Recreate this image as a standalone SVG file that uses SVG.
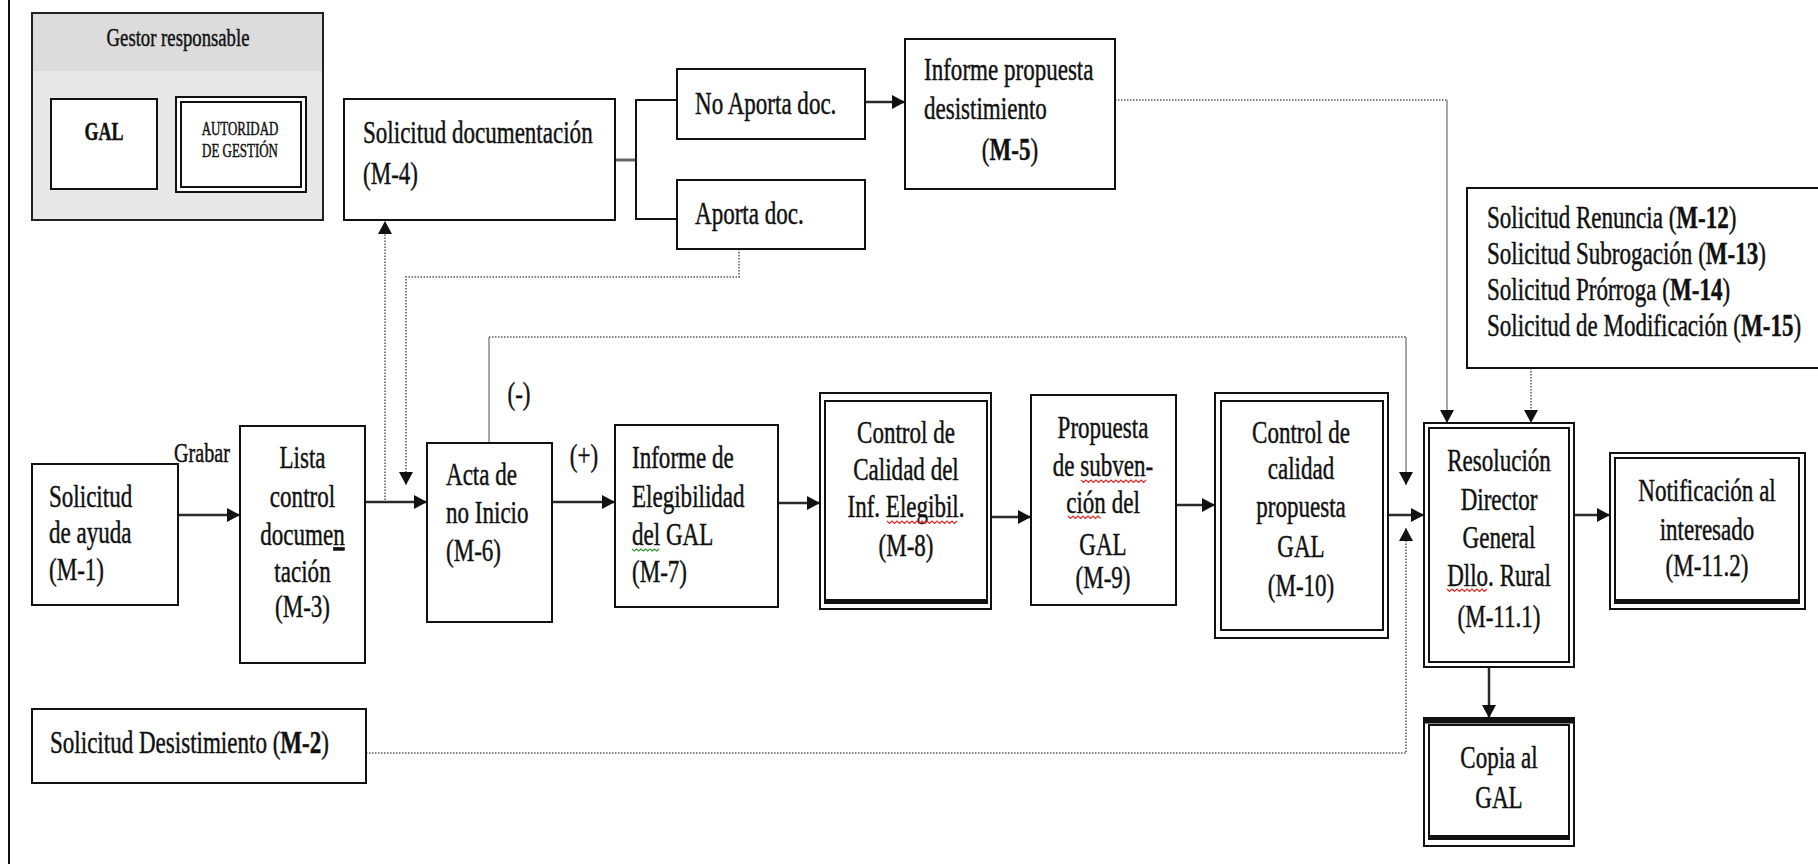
<svg xmlns="http://www.w3.org/2000/svg" width="1818" height="864" viewBox="0 0 1818 864">
<style>
.t{font-family:"Liberation Serif","Times New Roman",serif;font-size:32px;fill:#111;stroke:#111;stroke-width:0.45}
.c{text-anchor:middle}
.b{font-weight:bold}
.box{fill:#fff;stroke:#111;stroke-width:2}
.ln{fill:none;stroke:#2a2a2a;stroke-width:2.5}
.dot{fill:none;stroke:#808080;stroke-width:2;stroke-dasharray:1.5 1.5}
.thin{fill:none;stroke:#8a8a8a;stroke-width:1.5}
.sqr{fill:none;stroke:#e02828;stroke-width:1.2}
.sqg{fill:none;stroke:#2f9a2f;stroke-width:1.2}
</style>
<defs>
<marker id="ah" viewBox="0 0 13 14" refX="13" refY="7" markerWidth="13" markerHeight="14" markerUnits="userSpaceOnUse" orient="auto">
<path d="M0,0 L13,7 L0,14 z" fill="#111"/>
</marker>
</defs>
<rect width="1818" height="864" fill="#fff"/>
<line x1="9" y1="0" x2="9" y2="864" stroke="#111" stroke-width="2"/>

<g id="legend">
<rect x="32" y="13" width="291" height="207" fill="#e8e8e8" stroke="#222" stroke-width="2"/>
<rect x="33" y="14" width="289" height="57" fill="#dcdcdc"/>
<text class="t c" style="font-size:26px" transform="translate(178,46) scale(0.72,1)">Gestor responsable</text>
<rect class="box" x="51" y="99" width="106" height="90"/>
<text class="t c b" style="font-size:25px" transform="translate(104,140) scale(0.72,1)">GAL</text>
<rect class="box" x="176" y="97" width="130" height="95"/>
<rect class="box" x="181" y="102" width="120" height="85"/>
<text class="t c" style="font-size:18px" transform="translate(240,135) scale(0.72,1)">AUTORIDAD</text>
<text class="t c" style="font-size:18px" transform="translate(240,157) scale(0.72,1)">DE GESTIÓN</text>
</g>

<g id="connectors">
<line class="ln" x1="178" y1="515" x2="240" y2="515" marker-end="url(#ah)"/>
<line class="ln" x1="365" y1="502" x2="427" y2="502" marker-end="url(#ah)"/>
<line class="dot" x1="385" y1="500" x2="385" y2="221" marker-end="url(#ah)"/>
<polyline class="dot" points="739,249 739,277 406,277 406,485" marker-end="url(#ah)"/>
<line class="ln" x1="552" y1="502" x2="615" y2="502" marker-end="url(#ah)"/>
<line class="thin" x1="489" y1="443" x2="489" y2="337"/>
<line class="dot" x1="489" y1="337" x2="1406" y2="337"/>
<line class="thin" x1="1406" y1="337" x2="1406" y2="485" marker-end="url(#ah)"/>
<line class="ln" x1="778" y1="503" x2="820" y2="503" marker-end="url(#ah)"/>
<line class="ln" x1="991" y1="517" x2="1031" y2="517" marker-end="url(#ah)"/>
<line class="ln" x1="1176" y1="505" x2="1215" y2="505" marker-end="url(#ah)"/>
<line class="ln" x1="1388" y1="515" x2="1424" y2="515" marker-end="url(#ah)"/>
<polyline class="dot" points="366,753 1406,753 1406,528" marker-end="url(#ah)"/>
<line class="dot" x1="1115" y1="100" x2="1447" y2="100"/>
<line class="thin" x1="1447" y1="100" x2="1447" y2="423" marker-end="url(#ah)"/>
<line class="dot" x1="1531" y1="368" x2="1531" y2="423" marker-end="url(#ah)"/>
<line class="ln" x1="1574" y1="515" x2="1610" y2="515" marker-end="url(#ah)"/>
<line class="ln" x1="1489" y1="667" x2="1489" y2="718" marker-end="url(#ah)"/>
<line class="ln" x1="865" y1="102" x2="905" y2="102" marker-end="url(#ah)"/>
<line x1="615" y1="160" x2="636" y2="160" stroke="#666" stroke-width="3"/>
<polyline points="677,100 636,100 636,219 677,219" fill="none" stroke="#111" stroke-width="2"/>
</g>

<g id="m1">
<rect class="box" x="32" y="464" width="146" height="141"/>
<text class="t" transform="translate(49,507) scale(0.72,1)">Solicitud</text>
<text class="t" transform="translate(49,543) scale(0.72,1)">de ayuda</text>
<text class="t" transform="translate(49,580) scale(0.72,1)">(M-1)</text>
</g>
<text id="lbl-grabar" class="t" style="font-size:28px" transform="translate(174,462) scale(0.72,1)">Grabar</text>

<g id="m3">
<rect class="box" x="240" y="426" width="125" height="237"/>
<text class="t c" transform="translate(302.5,468) scale(0.72,1)">Lista</text>
<text class="t c" transform="translate(302.5,507) scale(0.72,1)">control</text>
<text class="t c" transform="translate(302.5,545) scale(0.72,1)">docume<tspan text-decoration="underline">n</tspan></text>
<text class="t c" transform="translate(302.5,582) scale(0.72,1)">tación</text>
<text class="t c" transform="translate(302.5,617) scale(0.72,1)">(M-3)</text>
</g>

<g id="m4">
<rect class="box" x="344" y="99" width="271" height="121"/>
<text class="t" transform="translate(363,143) scale(0.72,1)">Solicitud documentación</text>
<text class="t" transform="translate(363,184) scale(0.72,1)">(M-4)</text>
</g>

<g id="noaporta">
<rect class="box" x="677" y="69" width="188" height="70"/>
<text class="t" transform="translate(695,114) scale(0.72,1)">No Aporta doc.</text>
</g>

<g id="aporta">
<rect class="box" x="677" y="180" width="188" height="69"/>
<text class="t" transform="translate(695,224) scale(0.72,1)">Aporta doc.</text>
</g>

<g id="m5">
<rect class="box" x="905" y="39" width="210" height="150"/>
<text class="t" transform="translate(924,80) scale(0.72,1)">Informe propuesta</text>
<text class="t" transform="translate(924,119) scale(0.72,1)">desistimiento</text>
<text class="t c" transform="translate(1010,160) scale(0.72,1)">(<tspan class="b">M-5</tspan>)</text>
</g>

<g id="m6">
<rect class="box" x="427" y="443" width="125" height="179"/>
<text class="t" transform="translate(446,485) scale(0.72,1)">Acta de</text>
<text class="t" transform="translate(446,523) scale(0.72,1)">no Inicio</text>
<text class="t" transform="translate(446,561) scale(0.72,1)">(M-6)</text>
</g>
<text id="lbl-neg" class="t c" transform="translate(519,404) scale(0.72,1)">(-)</text>
<text id="lbl-pos" class="t c" transform="translate(584,466) scale(0.72,1)">(+)</text>

<g id="m7">
<rect class="box" x="615" y="425" width="163" height="182"/>
<text class="t" transform="translate(632,468) scale(0.72,1)">Informe de</text>
<text class="t" transform="translate(632,507) scale(0.72,1)">Elegibilidad</text>
<text class="t" transform="translate(632,545) scale(0.72,1)">del GAL</text>
<text class="t" transform="translate(632,582) scale(0.72,1)">(M-7)</text>
<path class="sqg" d="M632,549 l2.25,2 l2.25,-2 l2.25,2 l2.25,-2 l2.25,2 l2.25,-2 l2.25,2 l2.25,-2 l2.25,2 l2.25,-2 l2.25,2 l2.25,-2"/>
</g>

<g id="m8">
<rect class="box" x="820" y="393" width="171" height="216"/>
<rect class="box" x="825" y="401" width="162" height="202"/>
<line x1="825" y1="601" x2="987" y2="601" stroke="#111" stroke-width="4"/>
<text class="t c" transform="translate(906,443) scale(0.72,1)">Control de</text>
<text class="t c" transform="translate(906,480) scale(0.72,1)">Calidad del</text>
<text class="t c" transform="translate(906,517) scale(0.72,1)">Inf. Elegibil.</text>
<text class="t c" transform="translate(906,556) scale(0.72,1)">(M-8)</text>
<path class="sqr" d="M887,521 l2.5,2.5 l2.5,-2.5 l2.5,2.5 l2.5,-2.5 l2.5,2.5 l2.5,-2.5 l2.5,2.5 l2.5,-2.5 l2.5,2.5 l2.5,-2.5 l2.5,2.5 l2.5,-2.5 l2.5,2.5 l2.5,-2.5 l2.5,2.5 l2.5,-2.5 l2.5,2.5 l2.5,-2.5 l2.5,2.5 l2.5,-2.5 l2.5,2.5 l2.5,-2.5 l2.5,2.5 l2.5,-2.5 l2.5,2.5 l2.5,-2.5 l2.5,2.5 l2.5,-2.5"/>
</g>

<g id="m9">
<rect class="box" x="1031" y="395" width="145" height="210"/>
<text class="t c" transform="translate(1103,438) scale(0.72,1)">Propuesta</text>
<text class="t c" transform="translate(1103,476) scale(0.72,1)">de subven-</text>
<text class="t c" transform="translate(1103,513) scale(0.72,1)">ción del</text>
<text class="t c" transform="translate(1103,555) scale(0.72,1)">GAL</text>
<text class="t c" transform="translate(1103,588) scale(0.72,1)">(M-9)</text>
<path class="sqr" d="M1081,480 l2.5,2.5 l2.5,-2.5 l2.5,2.5 l2.5,-2.5 l2.5,2.5 l2.5,-2.5 l2.5,2.5 l2.5,-2.5 l2.5,2.5 l2.5,-2.5 l2.5,2.5 l2.5,-2.5 l2.5,2.5 l2.5,-2.5 l2.5,2.5 l2.5,-2.5 l2.5,2.5 l2.5,-2.5 l2.5,2.5 l2.5,-2.5 l2.5,2.5 l2.5,-2.5 l2.5,2.5 l2.5,-2.5 l2.5,2.5 l2.5,-2.5"/>
<path class="sqr" d="M1068,516 l2.5,2.5 l2.5,-2.5 l2.5,2.5 l2.5,-2.5 l2.5,2.5 l2.5,-2.5 l2.5,2.5 l2.5,-2.5 l2.5,2.5 l2.5,-2.5 l2.5,2.5 l2.5,-2.5 l2.5,2.5"/>
</g>

<g id="m10">
<rect class="box" x="1215" y="393" width="173" height="245"/>
<rect class="box" x="1221" y="401" width="162" height="229"/>
<text class="t c" transform="translate(1301,443) scale(0.72,1)">Control de</text>
<text class="t c" transform="translate(1301,479) scale(0.72,1)">calidad</text>
<text class="t c" transform="translate(1301,517) scale(0.72,1)">propuesta</text>
<text class="t c" transform="translate(1301,557) scale(0.72,1)">GAL</text>
<text class="t c" transform="translate(1301,596) scale(0.72,1)">(M-10)</text>
</g>

<g id="m12-15">
<rect class="box" x="1467" y="188" width="400" height="180"/>
<text class="t" transform="translate(1487,228) scale(0.72,1)">Solicitud Renuncia (<tspan class="b">M-12</tspan>)</text>
<text class="t" transform="translate(1487,264) scale(0.72,1)">Solicitud Subrogación (<tspan class="b">M-13</tspan>)</text>
<text class="t" transform="translate(1487,300) scale(0.72,1)">Solicitud Prórroga (<tspan class="b">M-14</tspan>)</text>
<text class="t" transform="translate(1487,336) scale(0.72,1)">Solicitud de Modificación (<tspan class="b">M-15</tspan>)</text>
</g>

<g id="m11-1">
<rect class="box" x="1424" y="423" width="150" height="244"/>
<rect class="box" x="1429" y="428" width="140" height="234"/>
<text class="t c" transform="translate(1499,471) scale(0.72,1)">Resolución</text>
<text class="t c" transform="translate(1499,510) scale(0.72,1)">Director</text>
<text class="t c" transform="translate(1499,548) scale(0.72,1)">General</text>
<text class="t c" transform="translate(1499,586) scale(0.72,1)">Dllo. Rural</text>
<text class="t c" transform="translate(1499,627) scale(0.72,1)">(M-11.1)</text>
<path class="sqr" d="M1447,589 l2.5,2.5 l2.5,-2.5 l2.5,2.5 l2.5,-2.5 l2.5,2.5 l2.5,-2.5 l2.5,2.5 l2.5,-2.5 l2.5,2.5 l2.5,-2.5 l2.5,2.5 l2.5,-2.5 l2.5,2.5 l2.5,-2.5 l2.5,2.5 l2.5,-2.5"/>
</g>

<g id="m11-2">
<rect class="box" x="1610" y="453" width="195" height="156"/>
<rect class="box" x="1615" y="458" width="184" height="145"/>
<line x1="1615" y1="601" x2="1799" y2="601" stroke="#111" stroke-width="4"/>
<text class="t c" transform="translate(1707,501) scale(0.72,1)">Notificación al</text>
<text class="t c" transform="translate(1707,540) scale(0.72,1)">interesado</text>
<text class="t c" transform="translate(1707,576) scale(0.72,1)">(M-11.2)</text>
</g>

<g id="copia">
<rect class="box" x="1424" y="718" width="150" height="128"/>
<rect class="box" x="1429" y="725" width="140" height="114"/>
<line x1="1424" y1="721" x2="1574" y2="721" stroke="#111" stroke-width="5"/>
<line x1="1429" y1="837" x2="1569" y2="837" stroke="#111" stroke-width="4"/>
<text class="t c" transform="translate(1499,768) scale(0.72,1)">Copia al</text>
<text class="t c" transform="translate(1499,808) scale(0.72,1)">GAL</text>
</g>

<g id="m2">
<rect class="box" x="32" y="709" width="334" height="74"/>
<text class="t" transform="translate(50,753) scale(0.72,1)">Solicitud Desistimiento (<tspan class="b">M-2</tspan>)</text>
</g>
</svg>
